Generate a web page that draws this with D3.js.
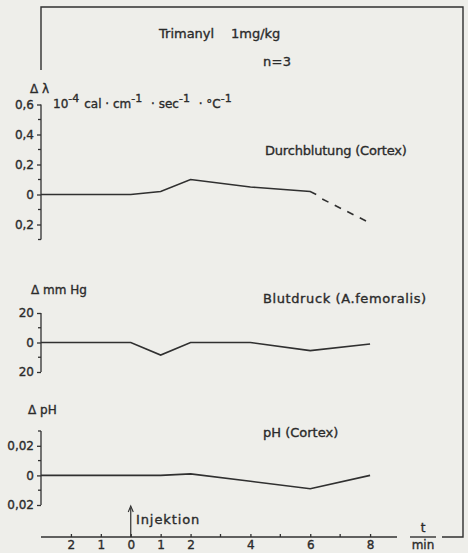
<!DOCTYPE html>
<html lang="de">
  <head>
    <meta charset="utf-8" />
    <title>Trimanyl 1mg/kg</title>
    <script type="text/javascript" src="https://cdn.jsdelivr.net/npm/d3@7"></script>
    <style>
      body { margin: 0; background: #eeeeea; }
      text { font-family: "DejaVu Sans", sans-serif; fill: #2b2b2b; stroke: #2b2b2b; stroke-width: 0.35px; }
    </style>
  </head>
  <body>
    <script type="text/javascript">
// time axis (min)
var xTicks = [-2, -1, 0, 1, 2, 4, 6, 8];
var xMinor = [3, 5, 7];

// Durchblutung (Cortex), 10^-4 cal/cm/sec/°C
var flowTimes = [-3, 0, 1, 2, 4, 6, 6.2];
var flowValues = [0, 0, 0.02, 0.1, 0.05, 0.02, 0];
var flowDashTimes = [6.4, 8];
var flowDashValues = [-0.03, -0.19];
var flowTicks = [0.6, 0.4, 0.2, 0, -0.2];
var flowMinor = [0.5, 0.3, 0.1, -0.1, -0.3];

// Blutdruck (A.femoralis), mm Hg
var bpTimes = [-3, 0, 1, 2, 4, 6, 8];
var bpValues = [0, 0, -8.5, 0, 0, -5.5, -1];
var bpTicks = [20, 0, -20];
var bpMinor = [10, -10];

// pH (Cortex)
var phTimes = [-3, 0, 1, 2, 4, 6, 8];
var phValues = [0, 0, 0, 0.001, -0.004, -0.009, 0];
var phTicks = [0.02, 0, -0.02];
var phMinor = [0.03, 0.01, -0.01];

var w = 468;
var h = 553;
var ink = "#303030";
var axX = 41;

var svg = d3.select("body")
            .append("svg")
            .attr("width", w)
            .attr("height", h);

var de = d3.formatLocale({ decimal: ",", thousands: ".", grouping: [3], currency: ["", ""] });
function fmt(spec) {
  var f = de.format(spec);
  return function(d) { return d === 0 ? "0" : f(Math.abs(d)); };
}

var xScale = d3.scaleLinear().domain([-3, 8.9]).range([axX, 397]);
var yFlow = d3.scaleLinear().domain([-0.3, 0.6]).range([239.5, 104.5]);
var yBp = d3.scaleLinear().domain([-20, 20]).range([372, 313]);
var yPh = d3.scaleLinear().domain([-0.02, 0.03]).range([505, 431]);

// frame
svg.append("path")
   .attr("d", "M" + axX + ",70V7H463V537H442")
   .attr("fill", "none")
   .attr("stroke", ink)
   .attr("stroke-width", 1.4);

function yAxis(scale, ticks, minor, f) {
  var g = svg.append("g").attr("transform", "translate(" + axX + ",0)");
  g.call(d3.axisLeft(scale).tickValues(ticks).tickSize(4).tickPadding(3).tickFormat(f));
  g.append("g").selectAll("line")
   .data(minor)
   .enter()
   .append("line")
   .attr("x1", -3)
   .attr("x2", 0)
   .attr("y1", function(d) { return scale(d); })
   .attr("y2", function(d) { return scale(d); });
  g.select(".domain").attr("d", "M0," + scale.range()[1] + "V" + scale.range()[0]);
  g.selectAll("path, line").attr("stroke", ink).attr("stroke-width", 1.3);
  g.selectAll("text").attr("font-size", "12px").attr("fill", "#2b2b2b");
  return g;
}

yAxis(yFlow, flowTicks, flowMinor, fmt(".1f"));
yAxis(yBp, bpTicks, bpMinor, fmt("d"));
yAxis(yPh, phTicks, phMinor, fmt(".2f"));

// time axis
var xg = svg.append("g").attr("transform", "translate(0,537)");
xg.call(d3.axisBottom(xScale).tickValues(xTicks).tickSize(-3).tickPadding(3).tickFormat(fmt("d")));
xg.append("g").selectAll("line")
  .data(xMinor)
  .enter()
  .append("line")
  .attr("x1", function(d) { return xScale(d); })
  .attr("x2", function(d) { return xScale(d); })
  .attr("y1", -3)
  .attr("y2", 0);
xg.select(".domain").attr("d", "M" + axX + ",0H397");
xg.selectAll("path, line").attr("stroke", ink).attr("stroke-width", 1.3);
xg.selectAll("text").attr("font-size", "12px").attr("fill", "#2b2b2b");

function series(times, values, scale, dash) {
  var line = d3.line()
               .x(function(d, i) { return xScale(times[i]); })
               .y(function(d) { return scale(d); });
  svg.append("path")
     .attr("d", line(values))
     .attr("fill", "none")
     .attr("stroke", ink)
     .attr("stroke-width", 1.6)
     .attr("stroke-dasharray", dash || null);
}

series(flowTimes, flowValues, yFlow);
series(flowDashTimes, flowDashValues, yFlow, "7,7");
series(bpTimes, bpValues, yBp);
series(phTimes, phValues, yPh);

// Injektion arrow
svg.append("line")
   .attr("x1", xScale(0)).attr("x2", xScale(0))
   .attr("y1", 537).attr("y2", 508)
   .attr("stroke", ink).attr("stroke-width", 1.2);
svg.append("path")
   .attr("d", "M" + (xScale(0) - 2.5) + ",512L" + xScale(0) + ",506L" + (xScale(0) + 2.5) + ",512")
   .attr("fill", "none").attr("stroke", ink).attr("stroke-width", 1.1);

function label(x, y, s, size) {
  return svg.append("text")
            .attr("x", x)
            .attr("y", y)
            .attr("font-size", (size || 13) + "px")
            .text(s);
}

label(159, 38, "Trimanyl");
label(231, 38, "1mg/kg");
label(263, 66, "n=3").attr("letter-spacing", "0.3px");
label(30, 93, "Δ λ", 12);
label(265, 155, "Durchblutung (Cortex)").attr("letter-spacing", "-0.2px");
label(31, 294, "Δ mm Hg", 12);
label(263, 303, "Blutdruck (A.femoralis)").attr("letter-spacing", "0.6px");
label(28, 414, "Δ pH", 12);
label(263, 437, "pH (Cortex)");
label(136, 524, "Injektion").attr("letter-spacing", "0.9px");

// unit of the thermal conductivity
var unit = svg.append("text")
              .attr("x", 53)
              .attr("y", 108)
              .attr("font-size", "12px");
var parts = [["10", "-4"], ["cal · cm", "-1"], [" · sec", "-1"], [" · °C", "-1"]];
parts.forEach(function(p, i) {
  unit.append("tspan").attr("dy", i === 0 ? 0 : 6).attr("dx", i === 0 ? 0 : 5).text(p[0]);
  unit.append("tspan").attr("dy", -6).attr("font-size", "11px").text(p[1]);
});

// t / min
svg.append("text").attr("x", 423).attr("y", 532).attr("font-size", "12px")
   .attr("text-anchor", "middle").text("t");
svg.append("line").attr("x1", 410).attr("x2", 436).attr("y1", 537).attr("y2", 537)
   .attr("stroke", ink).attr("stroke-width", 1.4);
svg.append("text").attr("x", 423).attr("y", 549).attr("font-size", "12px")
   .attr("text-anchor", "middle").text("min");
    </script>
  </body>
</html>
